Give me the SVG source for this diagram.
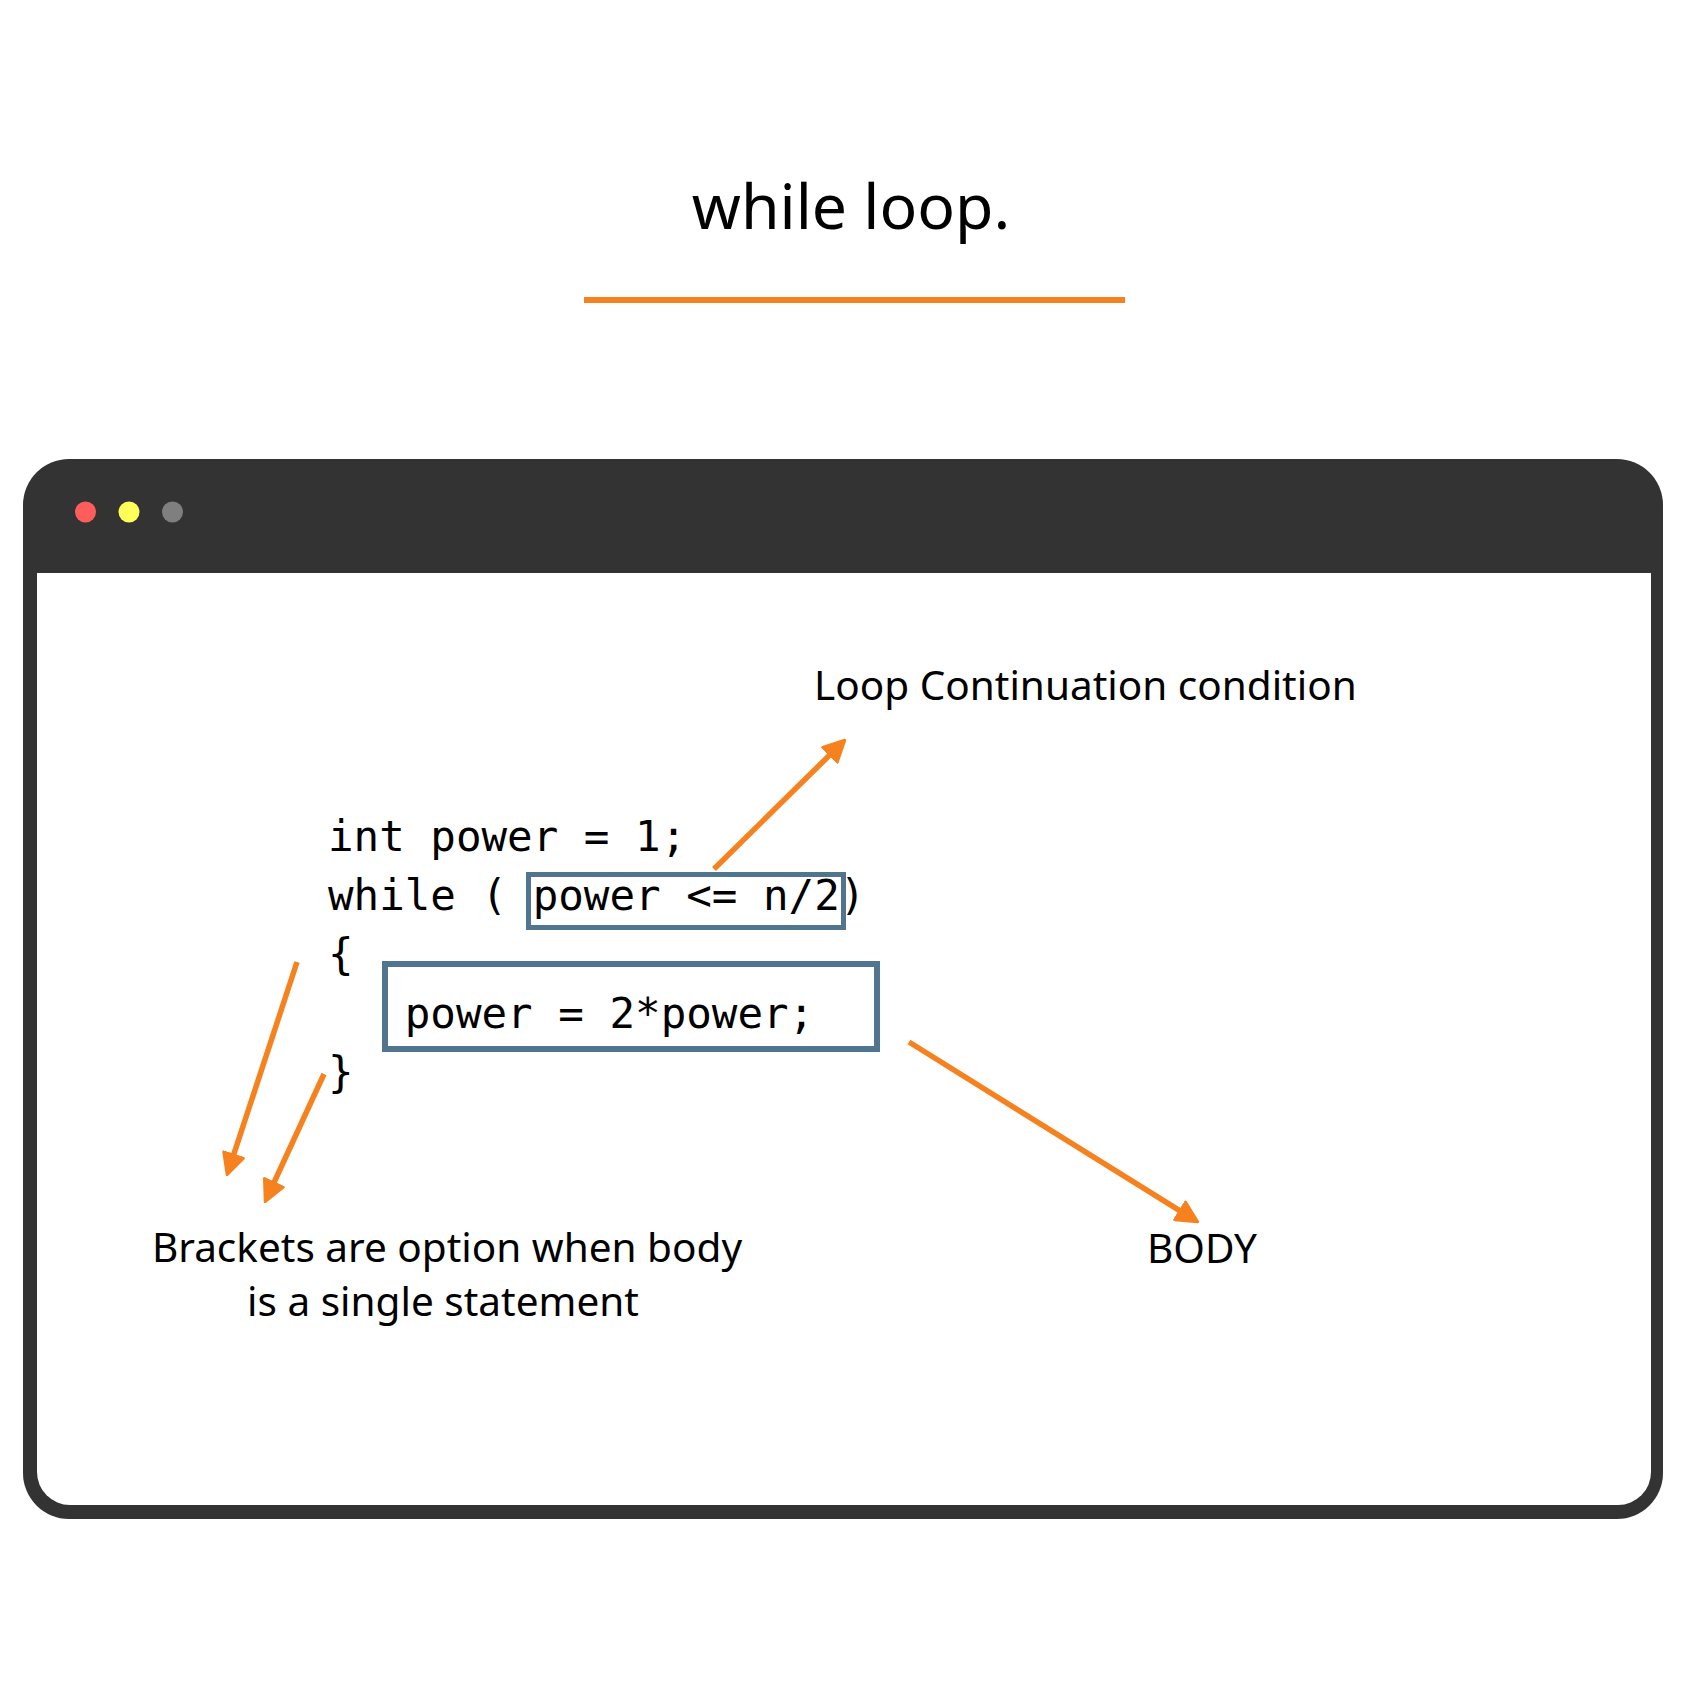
<svg xmlns="http://www.w3.org/2000/svg" width="1688" height="1688" viewBox="0 0 1688 1688">
  <style>
    .label { font-family: "Noto Sans", "Open Sans", sans-serif; font-size: 40.5px; fill: #000; }
    .title { font-family: "Noto Sans", "Open Sans", sans-serif; font-size: 62.5px; fill: #000; }
    .code { font-family: "DejaVu Sans Mono", "Liberation Mono", monospace; font-size: 42.5px; fill: #000; white-space: pre; }
    .hl { fill: none; stroke: #52758F; }
    .arrow { fill: none; stroke: #F5821F; stroke-width: 5.5; marker-end: url(#head); }
  </style>
  <defs>
    <marker id="head" viewBox="0 0 10 10" refX="3" refY="5" markerWidth="4.3" markerHeight="4.3" orient="auto" markerUnits="strokeWidth">
      <path d="M0.6,0.6 L9.4,5 L0.6,9.4 Z" fill="#F5821F" stroke="#F5821F" stroke-width="1.2" stroke-linejoin="round"/>
    </marker>
  </defs>
  <rect width="1688" height="1688" fill="#ffffff"/>

  <g id="title">
    <text class="title" x="851" y="229" text-anchor="middle">while loop.</text>
    <rect x="584" y="297" width="541" height="6" fill="#F5821F"/>
  </g>

  <g id="window">
    <path d="M69,459 H1617 A46,46 0 0 1 1663,505 V1473 A46,46 0 0 1 1617,1519 H69 A46,46 0 0 1 23,1473 V505 A46,46 0 0 1 69,459 Z" fill="#333333"/>
    <path d="M37,573 H1651 V1472 A33,33 0 0 1 1618,1505 H70 A33,33 0 0 1 37,1472 Z" fill="#ffffff"/>
    <circle cx="85.5" cy="512" r="10.5" fill="#FF5C5C"/>
    <circle cx="129" cy="512" r="10.5" fill="#FFFF5A"/>
    <circle cx="172.5" cy="512" r="10.5" fill="#7F7F7F"/>
  </g>

  <g id="code">
    <text class="code" x="328" y="851">int power = 1;</text>
    <text class="code" x="328" y="910">while ( power &lt;= n/2)</text>
    <text class="code" x="328" y="969">{</text>
    <text class="code" x="328" y="1028">   power = 2*power;</text>
    <text class="code" x="328" y="1087">}</text>
  </g>

  <g id="condition-box">
    <rect class="hl" x="528.5" y="874.5" width="315" height="53" stroke-width="5"/>
  </g>
  <g id="body-box">
    <rect class="hl" x="385" y="964" width="492" height="85" stroke-width="6"/>
  </g>

  <g id="label-condition">
    <text class="label" x="814" y="700">Loop Continuation condition</text>
  </g>
  <g id="label-body">
    <text class="label" x="1147" y="1263">BODY</text>
  </g>
  <g id="label-brackets">
    <text class="label" x="447" y="1262" text-anchor="middle">Brackets are option when body</text>
    <text class="label" x="443" y="1316" text-anchor="middle">is a single statement</text>
  </g>

  <g id="connectors">
    <line class="arrow" x1="714" y1="869" x2="834" y2="750.8"/>
    <line class="arrow" x1="297" y1="962" x2="231.8" y2="1160.4"/>
    <line class="arrow" x1="324" y1="1074" x2="271.5" y2="1188"/>
    <line class="arrow" x1="909" y1="1042" x2="1184.9" y2="1213.9"/>
  </g>
</svg>
